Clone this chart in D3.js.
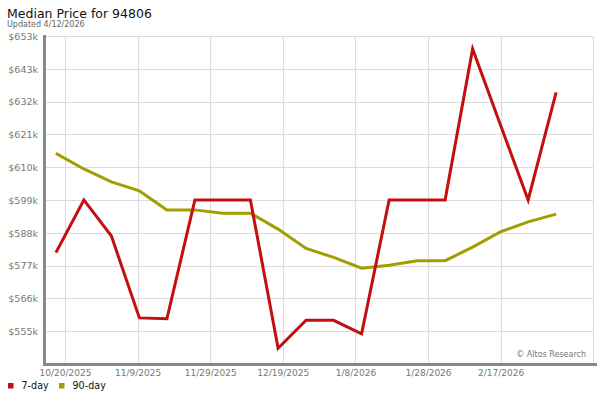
<!DOCTYPE html>
<html>
<head>
<meta charset="utf-8">
<script src="https://cdn.jsdelivr.net/npm/d3@7"></script>
<style>
  html, body { margin: 0; padding: 0; background: #fff; }
  svg { display: block; font-family: "DejaVu Sans", sans-serif; }
</style>
</head>
<body>
<svg id="chart" width="600" height="400"></svg>
<script>
// ---- data ----
const dates = [
  "2025-10-17T12", "2025-10-25T05", "2025-11-01T19", "2025-11-09T12", "2025-11-17T02",
  "2025-11-24T19", "2025-12-02T10", "2025-12-10T02", "2025-12-17T17", "2025-12-25T10",
  "2026-01-02T00", "2026-01-09T17", "2026-01-17T07", "2026-01-25T00", "2026-02-01T17",
  "2026-02-09T07", "2026-02-16T22", "2026-02-24T14", "2026-03-04T07"
];
const sevenDay = [581.4, 598.9, 586.9, 559.7, 559.4, 598.9, 598.9, 598.9, 549.6, 558.9,
                  558.9, 554.4, 598.9, 598.9, 598.9, 649.1, 624.0, 598.9, 634.7];
const ninetyDay = [614.4, 609.2, 604.9, 601.9, 595.6, 595.6, 594.5, 594.5, 589.2, 582.8,
                   579.8, 576.2, 577.2, 578.7, 578.7, 583.2, 588.3, 591.6, 594.2];
const xTickDates = ["2025-10-20T00", "2025-11-09T00", "2025-11-29T00", "2025-12-19T00",
                    "2026-01-08T00", "2026-01-28T00", "2026-02-17T00"];
const yTickValues = [555.3, 566.2, 577.1, 588.0, 598.9, 609.8, 620.7, 631.6, 642.5, 653.4];
const xDomain = ["2025-10-14T12", "2026-03-15T00"];
const yDomain = [544.7, 653.4];
const seriesNames = ["7-day", "90-day"];
const seriesColors = ["#c40f0f", "#a39e00"];

// ---- chart ----
const parse = d3.timeParse("%Y-%m-%dT%H");
const svg = d3.select("#chart");
const L = 45, R = 595, T = 36, B = 363;
const plotRight = 593.5;

const x = d3.scaleTime().domain(xDomain.map(parse)).range([L, R]);
const y = d3.scaleLinear().domain(yDomain).range([B, T]);

// title
svg.append("text").attr("x", 7).attr("y", 18.3)
  .attr("font-size", 12.5).attr("fill", "#111").text("Median Price for 94806");
svg.append("text").attr("x", 7).attr("y", 27.3)
  .attr("font-size", 8).attr("fill", "#666").text("Updated 4/12/2026");

// grid
const grid = svg.append("g");
grid.selectAll("line.h").data(yTickValues).join("line")
  .attr("x1", L).attr("x2", plotRight)
  .attr("y1", d => Math.round(y(d)) + 0.5).attr("y2", d => Math.round(y(d)) + 0.5)
  .attr("stroke", "#dcdcdc").attr("stroke-width", 1.2);
grid.selectAll("line.v").data(xTickDates.map(parse)).join("line")
  .attr("x1", d => Math.round(x(d)) + 0.5).attr("x2", d => Math.round(x(d)) + 0.5)
  .attr("y1", T).attr("y2", B)
  .attr("stroke", "#dcdcdc").attr("stroke-width", 1.2);
grid.append("line").attr("x1", plotRight).attr("x2", plotRight).attr("y1", T).attr("y2", B)
  .attr("stroke", "#dcdcdc").attr("stroke-width", 1.2);

// y axis
const yAxis = d3.axisLeft(y).tickValues(yTickValues).tickSize(0).tickPadding(0)
  .tickFormat(d => "$" + Math.round(d) + "k");
const gy = svg.append("g").attr("transform", `translate(38,0)`).call(yAxis);
gy.select(".domain").remove();
gy.selectAll("text").attr("font-size", 9.5).attr("fill", "#777")
  .attr("font-family", "DejaVu Sans").attr("dy", "0.35em");

// x axis
const xAxis = d3.axisBottom(x).tickValues(xTickDates.map(parse)).tickSize(0).tickPadding(0)
  .tickFormat(d3.timeFormat("%-m/%-d/%Y"));
const gx = svg.append("g").attr("transform", `translate(0,370)`).call(xAxis);
gx.select(".domain").remove();
gx.selectAll("text").attr("font-size", 9).attr("fill", "#777")
  .attr("font-family", "DejaVu Sans").attr("dy", "0.71em");

// axis lines
svg.append("line").attr("x1", 44.5).attr("x2", 44.5).attr("y1", T - 1).attr("y2", 366)
  .attr("stroke", "#888").attr("stroke-width", 3);
svg.append("line").attr("x1", 43).attr("x2", 597).attr("y1", 364.5).attr("y2", 364.5)
  .attr("stroke", "#888").attr("stroke-width", 3);

// copyright
svg.append("text").attr("x", 586).attr("y", 357).attr("text-anchor", "end")
  .attr("font-size", 8).attr("fill", "#777").text("\u00A9 Altos Research");

// lines
const pDates = dates.map(parse);
const line = d3.line().x((d, i) => x(pDates[i])).y(d => y(d));
[ninetyDay, sevenDay].forEach((vals, k) => {
  const idx = k === 0 ? 1 : 0;
  svg.append("path").datum(vals).attr("d", line)
    .attr("fill", "none").attr("stroke", seriesColors[idx]).attr("stroke-width", 3);
});

// legend
const lg = svg.append("g");
const legX = [8, 59];
seriesNames.forEach((name, i) => {
  lg.append("rect").attr("x", legX[i]).attr("y", 383).attr("width", 5.5).attr("height", 5.5)
    .attr("fill", seriesColors[i]);
  lg.append("text").attr("x", legX[i] + 13.5).attr("y", 388.5)
    .attr("font-size", 9.6).attr("fill", "#111").text(name);
});
</script>
</body>
</html>
